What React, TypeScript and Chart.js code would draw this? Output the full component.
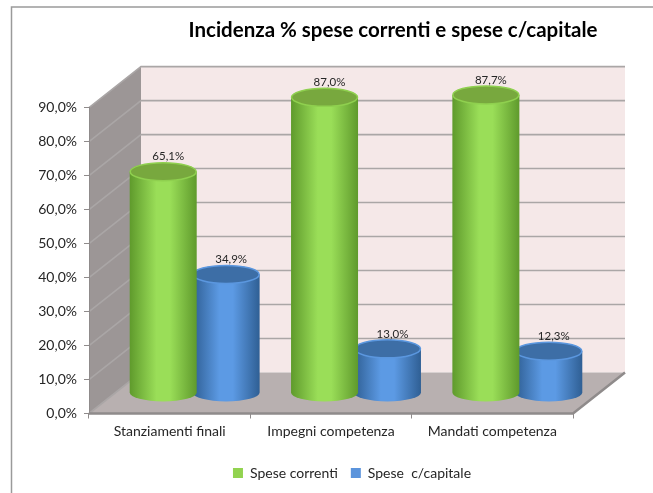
import React, { useEffect, useRef } from "react";
import { Chart, registerables } from "chart.js";

Chart.register(...registerables);

const categories = ["Stanziamenti finali", "Impegni competenza", "Mandati competenza"];
const speseCorrenti = [65.1, 87.0, 87.7];
const speseCapitale = [34.9, 13.0, 12.3];
const titleText = "Incidenza % spese correnti e spese c/capitale";
const seriesNames = ["Spese correnti", "Spese  c/capitale"];
const FONT = "Lato, 'Open Sans', sans-serif";

const depth = { x: 52, y: -41 };
const cylOffset = { x: 25, y: -20.5 };
const cylRx = 33.5;
const cylRy = 9;
const shades = [
  { edge: "#5f9a2c", mid: "#9ade58", top: "#78a83e", rim: "#8fd04f" },
  { edge: "#2f5f94", mid: "#5c9ae4", top: "#3d6ea6", rim: "#5b97df" },
];

const wallsPlugin = {
  id: "walls",
  beforeDraw(chart: any) {
    const { ctx, chartArea: a, scales } = chart;
    const y = scales.y;
    const dx = depth.x;
    const dy = depth.y;
    ctx.save();
    ctx.strokeStyle = "#9a9a9a";
    ctx.lineWidth = 1.5;
    ctx.beginPath();
    ctx.moveTo(11.5, chart.height);
    ctx.lineTo(11.5, 7);
    ctx.lineTo(chart.width, 7);
    ctx.stroke();
    ctx.fillStyle = "#f5e8e8";
    ctx.fillRect(a.left + dx, a.top + dy, a.right - a.left, a.bottom - a.top);
    ctx.fillStyle = "#9c9696";
    ctx.beginPath();
    ctx.moveTo(a.left, a.top);
    ctx.lineTo(a.left + dx, a.top + dy);
    ctx.lineTo(a.left + dx, a.bottom + dy);
    ctx.lineTo(a.left, a.bottom);
    ctx.closePath();
    ctx.fill();
    ctx.fillStyle = "#b8b0b0";
    ctx.beginPath();
    ctx.moveTo(a.left, a.bottom);
    ctx.lineTo(a.left + dx, a.bottom + dy);
    ctx.lineTo(a.right + dx, a.bottom + dy);
    ctx.lineTo(a.right, a.bottom);
    ctx.closePath();
    ctx.fill();
    ctx.strokeStyle = "#aaa6a6";
    ctx.lineWidth = 1.6;
    y.ticks.forEach((t: any) => {
      const py = y.getPixelForValue(t.value);
      ctx.beginPath();
      ctx.moveTo(a.left, py);
      ctx.lineTo(a.left + dx, py + dy);
      if (t.value > 0) ctx.lineTo(a.right + dx, py + dy);
      ctx.stroke();
    });
    ctx.strokeStyle = "#8f8b8b";
    ctx.lineWidth = 2.5;
    ctx.beginPath();
    ctx.moveTo(a.left, a.bottom);
    ctx.lineTo(a.right, a.bottom);
    ctx.lineTo(a.right + dx, a.bottom + dy);
    ctx.stroke();
    ctx.restore();
  },
};

const cylinderPlugin = {
  id: "cylinders",
  afterLayout(chart: any) {
    const t = chart.titleBlock;
    const shift = 393 - (t.left + t.right) / 2;
    t.left += shift;
    t.right += shift;
    const l = chart.legend;
    const s = 352 - (l.left + l.right) / 2;
    l.left += s;
    l.right += s;
  },
  beforeDatasetDraw(chart: any, args: any) {
    const { ctx } = chart;
    const shade = shades[args.index];
    const meta = chart.getDatasetMeta(args.index);
    meta.data.forEach((bar: any, i: number) => {
      const cx = bar.x + cylOffset.x;
      const top = bar.y + cylOffset.y;
      const base = bar.base + cylOffset.y;
      const g = ctx.createLinearGradient(cx - cylRx, 0, cx + cylRx, 0);
      g.addColorStop(0, shade.edge);
      g.addColorStop(0.4, shade.mid);
      g.addColorStop(0.6, shade.mid);
      g.addColorStop(1, shade.edge);
      ctx.save();
      ctx.fillStyle = g;
      ctx.beginPath();
      ctx.moveTo(cx - cylRx, top);
      ctx.lineTo(cx - cylRx, base);
      ctx.ellipse(cx, base, cylRx, cylRy, 0, Math.PI, 0, true);
      ctx.lineTo(cx + cylRx, top);
      ctx.closePath();
      ctx.fill();
      ctx.fillStyle = shade.top;
      ctx.strokeStyle = shade.rim;
      ctx.lineWidth = 1.5;
      ctx.beginPath();
      ctx.ellipse(cx, top, cylRx - 0.5, cylRy, 0, 0, Math.PI * 2);
      ctx.fill();
      ctx.stroke();
      ctx.fillStyle = "#262626";
      ctx.font = `11.5px ${FONT}`;
      ctx.textAlign = "center";
      ctx.textBaseline = "middle";
      const v = chart.data.datasets[args.index].data[i];
      ctx.fillText(v.toFixed(1).replace(".", ",") + "%", cx + 5, top - 15);
      ctx.restore();
    });
    return false;
  },
};

export default function App() {
  const ref = useRef<HTMLCanvasElement | null>(null);
  useEffect(() => {
    document.body.style.margin = "0";
    const chart = new Chart(ref.current as HTMLCanvasElement, {
      type: "bar",
      data: {
        labels: categories,
        datasets: [
          { label: seriesNames[0], data: speseCorrenti, backgroundColor: "#92d350" },
          { label: seriesNames[1], data: speseCapitale, backgroundColor: "#5b94dc" },
        ],
      },
      options: {
        responsive: false,
        animation: false,
        datasets: { bar: { barPercentage: 1, categoryPercentage: 0.78 } },
        layout: { padding: { left: 0, right: 80, top: 18, bottom: 3 } },
        plugins: {
          tooltip: { enabled: false },
          title: {
            display: true,
            text: titleText,
            color: "#000",
            font: { family: FONT, size: 20.5, weight: "bold", lineHeight: 1.2 },
            padding: { top: 0, bottom: 65 },
          },
          legend: {
            position: "bottom",
            labels: {
              usePointStyle: true,
              pointStyle: "rect",
              boxWidth: 10,
              boxHeight: 10,
              padding: 13,
              color: "#262626",
              font: { family: FONT, size: 14 },
            },
          },
        },
        scales: {
          x: {
            afterFit(s: any) { s.height = 39.5; },
            border: { color: "#8f8b8b" },
            grid: { drawOnChartArea: false, tickLength: 5, color: "#8f8b8b" },
            ticks: { color: "#262626", font: { family: FONT, size: 14 }, maxRotation: 0, padding: 5 },
          },
          y: {
            min: 0,
            max: 90,
            afterFit(s: any) { s.width = 89; },
            border: { color: "#8f8b8b" },
            grid: { drawOnChartArea: false, tickLength: 5, color: "#8f8b8b" },
            ticks: {
              stepSize: 10,
              color: "#262626",
              padding: 7,
              font: { family: FONT, size: 14 },
              callback: (v: any) => Number(v).toFixed(1).replace(".", ",") + "%",
            },
          },
        },
      },
      plugins: [wallsPlugin, cylinderPlugin],
    } as any);
    return () => chart.destroy();
  }, []);
  return <canvas ref={ref} width={653} height={493} style={{ display: "block" }} />;
}
